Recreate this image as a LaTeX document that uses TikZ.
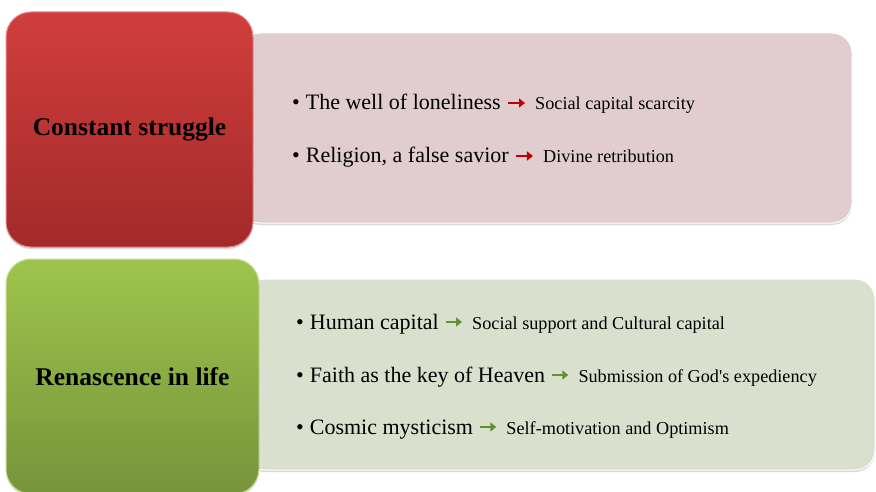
\documentclass[tikz,border=0pt]{standalone}
\usepackage{fontspec}
\setmainfont{Liberation Serif}
\usetikzlibrary{positioning,shadows,arrows.meta}
\definecolor{redtop}{RGB}{208,62,60}
\definecolor{redbot}{RGB}{163,42,41}
\definecolor{greentop}{RGB}{158,196,76}
\definecolor{greenbot}{RGB}{118,148,58}
\definecolor{pinkpanel}{RGB}{225,205,208}
\definecolor{greenpanel}{RGB}{217,224,206}
\definecolor{redarrow}{RGB}{192,0,0}
\definecolor{greenarrow}{RGB}{98,145,52}
\begin{document}
\begin{tikzpicture}
     [x=1pt, y=-1pt,
     panel/.style={rectangle, rounded corners=20pt, draw=white, line width=1pt, inner sep=0pt,
       drop shadow={shadow xshift=0pt, shadow yshift=-2pt, opacity=0.3}},
     tab/.style={rectangle, rounded corners=25pt, line width=1pt, inner sep=0pt,
       font=\fontsize{25.5}{30}\selectfont\bfseries, text=black,
       drop shadow={shadow xshift=0pt, shadow yshift=-2pt, opacity=0.3}},
     redtab/.style={tab, top color=redtop, bottom color=redbot, draw=redtop!60!white},
     greentab/.style={tab, top color=greentop, bottom color=greenbot, draw=greentop!60!white},
     item/.style={anchor=base west, inner sep=0pt, font=\fontsize{22}{26}\selectfont},
     result/.style={anchor=base west, inner sep=0pt, font=\fontsize{18.2}{22}\selectfont},
     redlink/.style={draw=redarrow, line width=2.4pt, -{Triangle[length=6pt,width=9pt]}},
     greenlink/.style={draw=greenarrow, line width=2.4pt, -{Triangle[length=6pt,width=9pt]}},
     ]
 \useasboundingbox[fill=white] (0,0) rectangle (876,492);
 % panels first, tabs on top
 \node at (546,128) [panel, fill=pinkpanel, minimum width=612pt, minimum height=190pt] (toppanel) {};
 \node at (560,374.5) [panel, fill=greenpanel, minimum width=630pt, minimum height=191pt] (lowpanel) {};
 \node at (129.5,129.5) [redtab, minimum width=247pt, minimum height=235pt] (struggle) {Constant struggle};
 \node at (132.5,376.5) [greentab, minimum width=253pt, minimum height=235pt] (renascence) {Renascence in life};

 % constant struggle
 \node at (292,110) [item] (well) {\textbullet\hspace{6pt}The well of loneliness};
 \node [result, right=34pt of well.base east, anchor=base west] (scarcity) {Social capital scarcity};
 \node at (292,163) [item] (religion) {\textbullet\hspace{6pt}Religion, a false savior};
 \node [result, right=34pt of religion.base east, anchor=base west] (retribution) {Divine retribution};
 \draw [redlink] ([xshift=7pt,yshift=7pt]well.base east) -- ([xshift=-10pt,yshift=7pt]scarcity.base west);
 \draw [redlink] ([xshift=7pt,yshift=7pt]religion.base east) -- ([xshift=-10pt,yshift=7pt]retribution.base west);

 % renascence in life
 \node at (296,329) [item] (human) {\textbullet\hspace{6pt}Human capital};
 \node [result, right=33pt of human.base east, anchor=base west] (support) {Social support and Cultural capital};
 \node at (296,382) [item] (faith) {\textbullet\hspace{6pt}Faith as the key of Heaven};
 \node [result, right=33pt of faith.base east, anchor=base west] (submission) {Submission of God\textquotesingle s expediency};
 \node at (296,434) [item] (cosmic) {\textbullet\hspace{6pt}Cosmic mysticism};
 \node [result, right=33pt of cosmic.base east, anchor=base west] (optimism) {Self-motivation and Optimism};
 \draw [greenlink] ([xshift=7pt,yshift=7pt]human.base east) -- ([xshift=-10pt,yshift=7pt]support.base west);
 \draw [greenlink] ([xshift=7pt,yshift=7pt]faith.base east) -- ([xshift=-10pt,yshift=7pt]submission.base west);
 \draw [greenlink] ([xshift=7pt,yshift=7pt]cosmic.base east) -- ([xshift=-10pt,yshift=7pt]optimism.base west);
 \end{tikzpicture}
\end{document}
